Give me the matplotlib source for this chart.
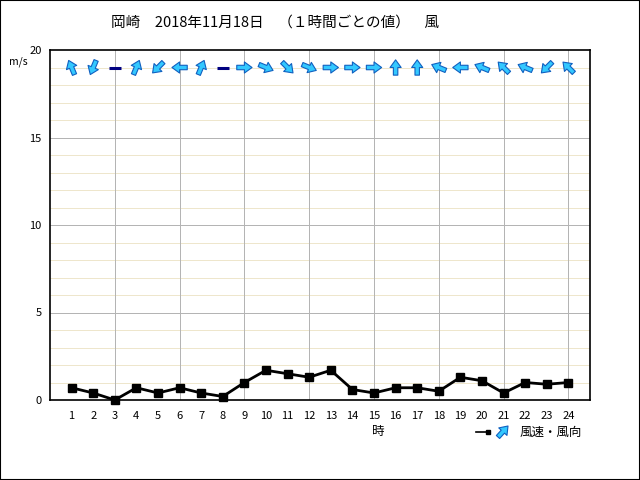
import numpy as np
import matplotlib
matplotlib.use('Agg')
import matplotlib.pyplot as plt
from matplotlib.transforms import offset_copy
from matplotlib.lines import Line2D
from matplotlib.patches import Rectangle

plt.rcParams['font.family'] = ['Noto Sans CJK JP', 'DejaVu Sans']

hours = list(range(1, 25))
wind_speed = [0.7, 0.4, 0.0, 0.7, 0.4, 0.7, 0.4, 0.2, 1.0, 1.7, 1.5, 1.3,
              1.7, 0.6, 0.4, 0.7, 0.7, 0.5, 1.3, 1.1, 0.4, 1.0, 0.9, 1.0]
# direction the wind blows from (16 points), '静穏' = calm
wind_from = ['南南東', '北北東', '静穏', '南南西', '北東', '東', '南南西', '静穏',
             '西', '西北西', '北西', '西北西', '西', '西', '西', '南', '南',
             '東南東', '東', '東南東', '南東', '東南東', '北東', '南東']

compass = ['北', '北北東', '北東', '東北東', '東', '東南東', '南東', '南南東',
           '南', '南南西', '南西', '西南西', '西', '西北西', '北西', '北北西']

title = '岡崎　2018年11月18日　（１時間ごとの値）　風'

arrow_style = 'simple,head_length=0.55,head_width=0.8,tail_width=0.32'

fig = plt.figure(figsize=(6.4, 4.8), dpi=100)
fig.patches.append(Rectangle((0, 0), 1, 1, transform=fig.transFigure,
                             fill=False, ec='black', lw=1.5))
ax = fig.add_axes([50 / 640, 80 / 480, 540 / 640, 350 / 480])

ax.set_xlim(0, 25)
ax.set_ylim(0, 20)
ax.set_xticks(hours)
ax.set_yticks([0, 5, 10, 15, 20])
ax.tick_params(which='both', length=0, labelsize=8)
ax.tick_params(axis='x', pad=8)
ax.tick_params(axis='y', pad=6)

for y in range(1, 20):
    col = '#b4b4b4' if y % 5 == 0 else '#eee6cc'
    ax.axhline(y, color=col, lw=0.72, zorder=0, snap=True, antialiased=False)
for x in [3, 6, 9, 12, 15, 18, 21, 24]:
    ax.axvline(x, color='#b4b4b4', lw=0.72, zorder=0, snap=True, antialiased=False)
for s in ax.spines.values():
    s.set_color('black')
    s.set_linewidth(1.2)

ax.plot(hours, wind_speed, color='black', lw=2, marker='s', markersize=5.5,
        clip_on=False, zorder=3)

# wind direction arrows (pointing where the wind goes)
L = 11.0
for h, d in zip(hours, wind_from):
    if d == '静穏':
        ax.plot(h, 19, marker='_', markersize=9, mew=2.2, color='#000080')
        continue
    ang = np.deg2rad(compass.index(d) * 22.5 + 180)
    dx, dy = L * np.sin(ang), L * np.cos(ang)
    tr = offset_copy(ax.transData, fig=fig, x=dx / 2, y=dy / 2, units='points')
    ax.annotate('', xy=(h, 19), xycoords=tr, xytext=(-dx, -dy),
                textcoords='offset points',
                arrowprops=dict(arrowstyle=arrow_style,
                                fc='#33c8ff', ec='#1060c0', lw=0.8,
                                shrinkA=0, shrinkB=0))

fig.text(0.43, 0.953, title, ha='center', va='center', fontsize=10.5)
fig.text(9 / 640, 1 - 62 / 480, 'm/s', fontsize=7.5, va='center')
fig.text(378 / 640, 1 - 432 / 480, '時', fontsize=9, ha='center', va='center')

fig.lines.append(Line2D([476 / 640, 488 / 640], [1 - 432 / 480] * 2,
                        transform=fig.transFigure, color='black', lw=1.2,
                        marker='s', markersize=2.5, markevery=[1]))
fig.text(520 / 640, 1 - 432 / 480, '風速・風向', fontsize=9, va='center')
ax.annotate('', xy=(508 / 640, 1 - 426 / 480), xycoords='figure fraction',
            xytext=(498 / 640, 1 - 437 / 480), textcoords='figure fraction',
            arrowprops=dict(arrowstyle=arrow_style,
                            fc='#33c8ff', ec='#1060c0', lw=0.8,
                            shrinkA=0, shrinkB=0))

fig.savefig('out.png', dpi=100)
